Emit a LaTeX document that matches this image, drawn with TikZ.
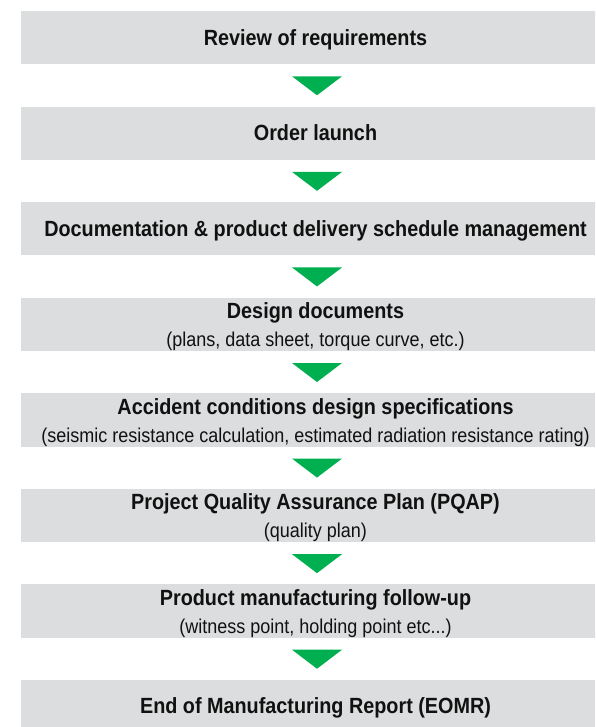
\documentclass[tikz,border=0pt]{standalone}
\usepackage{fontspec}
\setmainfont{Liberation Sans}[FakeStretch=0.90]
\usetikzlibrary{calc}
\definecolor{boxgray}{RGB}{220,221,222}
\definecolor{arrowgreen}{RGB}{0,176,80}
\definecolor{textblack}{RGB}{17,17,17}
\begin{document}
\begin{tikzpicture}[x=1pt,y=-1pt,
  stepbox/.style={fill=boxgray, draw=none, minimum width=589pt, minimum height=53.3pt, inner sep=0pt, outer sep=0pt},
  titletext/.style={anchor=base, inner sep=0pt, text=textblack, font=\fontsize{22}{26}\selectfont\bfseries},
  subtext/.style={anchor=base, inner sep=0pt, text=textblack, font=\fontsize{20}{24}\selectfont},
  flowarrow/.style={fill=arrowgreen, draw=none}]
\useasboundingbox (0,0) rectangle (595,727);
\clip (0,0) rectangle (595,727);

% boxes
\node[stepbox] (b1) at (315.5,37.65) {};
\node[stepbox] (b2) at (315.5,133.22) {};
\node[stepbox] (b3) at (315.5,228.79) {};
\node[stepbox] (b4) at (315.5,324.36) {};
\node[stepbox] (b5) at (315.5,419.93) {};
\node[stepbox] (b6) at (315.5,515.5) {};
\node[stepbox] (b7) at (315.5,611.07) {};
\node[stepbox] (b8) at (315.5,706.64) {};

% texts
\node[titletext] (t1) at ($(b1.north)+(0,34.5)$) {Review of requirements};
\node[titletext] (t2) at ($(b2.north)+(0,34)$) {Order launch};
\node[titletext] (t3) at ($(b3.north)+(0,34.5)$) {Documentation \& product delivery schedule management};
\node[titletext] (t4) at ($(b4.north)+(0,21)$) {Design documents};
\node[subtext]   (s4) at ($(b4.north)+(0,49)$) {(plans, data sheet, torque curve, etc.)};
\node[titletext] (t5) at ($(b5.north)+(0,21)$) {Accident conditions design specifications};
\node[subtext]   (s5) at ($(b5.north)+(0,49)$) {(seismic resistance calculation, estimated radiation resistance rating)};
\node[titletext] (t6) at ($(b6.north)+(0,21)$) {Project Quality Assurance Plan (PQAP)};
\node[subtext]   (s6) at ($(b6.north)+(0,49)$) {(quality plan)};
\node[titletext] (t7) at ($(b7.north)+(0,21)$) {Product manufacturing follow-up};
\node[subtext]   (s7) at ($(b7.north)+(0,49)$) {(witness point, holding point etc...)};
\node[titletext] (t8) at ($(b8.north)+(0,34)$) {End of Manufacturing Report (EOMR)};

% green arrows between boxes
\foreach \k in {1,...,7}{
  \fill[flowarrow] ($(b\k.south)+(-23.5,12)$) -- ($(b\k.south)+(26.5,12)$) -- ($(b\k.south)+(1.5,31)$) -- cycle;
}
\end{tikzpicture}
\end{document}
